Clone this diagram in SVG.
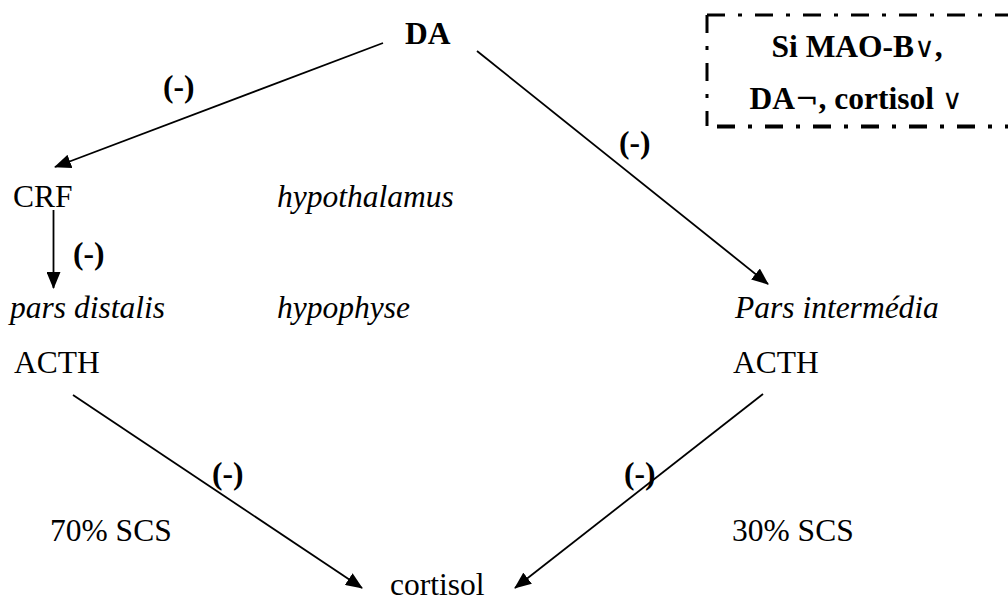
<svg xmlns="http://www.w3.org/2000/svg" width="1008" height="601" viewBox="0 0 1008 601">
<style>
.t{font-family:'Liberation Serif','Times New Roman',serif;font-size:31.5px;fill:#000}
.b{font-weight:bold}
.i{font-style:italic}
.s{font-weight:normal;font-family:'DejaVu Sans',sans-serif;font-size:28px}
.c{stroke:#000;stroke-width:1.8;fill:none}
.dd{stroke:#000;fill:none;stroke-dasharray:18 13 4 13}
</style>
<defs>
<marker id="ah" markerWidth="17" markerHeight="14" refX="16" refY="7" orient="auto" markerUnits="userSpaceOnUse" viewBox="0 0 17 14">
<path d="M0,0 L17,7 L0,14 z" fill="#000"/>
</marker>
</defs>
<rect width="1008" height="601" fill="#fff"/>
<g id="note">
<path class="dd" d="M707,15 L1008,15" stroke-width="3"/>
<path class="dd" d="M707,15 L707,126" stroke-width="3"/>
<path class="dd" d="M707,126.5 L1008,126.5" stroke-width="4" stroke-dashoffset="-10"/>
<text class="t b" x="857" y="57" text-anchor="middle">Si MAO-B<tspan class="s">∨</tspan>,</text>
<text class="t b" x="856" y="109" text-anchor="middle">DA<tspan class="s">¬</tspan>, cortisol <tspan class="s">∨</tspan></text>
</g>
<g id="connectors">
<line class="c" marker-end="url(#ah)" x1="383" y1="43" x2="55" y2="167"/>
<line class="c" marker-end="url(#ah)" x1="477" y1="51" x2="768" y2="284"/>
<line class="c" marker-end="url(#ah)" x1="53.5" y1="210" x2="53.5" y2="288"/>
<line class="c" marker-end="url(#ah)" x1="73" y1="395" x2="362" y2="588"/>
<line class="c" marker-end="url(#ah)" x1="763" y1="394" x2="515" y2="588"/>
<text class="t b" x="163" y="97">(-)</text>
<text class="t b" x="619" y="153">(-)</text>
<text class="t b" x="73" y="264">(-)</text>
<text class="t b" x="212" y="484">(-)</text>
<text class="t b" x="624" y="484">(-)</text>
</g>
<g id="DA"><text class="t b" x="405" y="44">DA</text></g>
<g id="CRF"><text class="t" x="13" y="207">CRF</text></g>
<g id="hypothalamus"><text class="t i" x="277" y="207">hypothalamus</text></g>
<g id="parsdistalis"><text class="t i" x="10" y="318">pars distalis</text></g>
<g id="hypophyse"><text class="t i" x="277" y="318">hypophyse</text></g>
<g id="parsintermedia"><text class="t i" x="735" y="318">Pars intermédia</text></g>
<g id="ACTH1"><text class="t" x="14" y="373">ACTH</text></g>
<g id="ACTH2"><text class="t" x="733" y="373">ACTH</text></g>
<g id="scs70"><text class="t" x="50" y="541">70% SCS</text></g>
<g id="scs30"><text class="t" x="732" y="541">30% SCS</text></g>
<g id="cortisol"><text class="t" x="390" y="595">cortisol</text></g>
</svg>
